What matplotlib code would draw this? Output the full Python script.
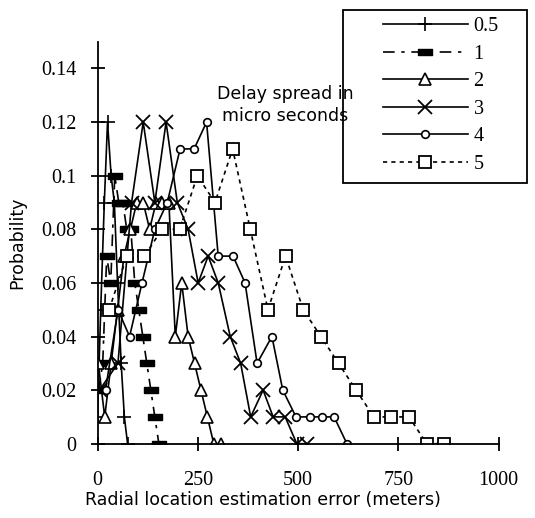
import matplotlib
matplotlib.use("Agg")
import matplotlib.pyplot as plt
from matplotlib.path import Path
from matplotlib.patches import Rectangle
import numpy as np

# ---------------- data ----------------
labels = ["0.5", "1", "2", "3", "4", "5"]

x05 = [0, 8, 17, 25, 34, 42, 50, 59, 67, 75]
y05 = [0.01, 0.05, 0.09, 0.12, 0.10, 0.09, 0.06, 0.03, 0.01, 0.0]

x1 = [3, 13, 23, 33, 43, 53, 63, 73, 83, 93, 103, 113, 123, 133, 143, 153]
y1 = [0.02, 0.03, 0.07, 0.06, 0.10, 0.09, 0.09, 0.08, 0.08, 0.06, 0.05, 0.04,
      0.03, 0.02, 0.01, 0.0]

x2 = [2, 18, 34, 50, 66, 82, 98, 114, 130, 146, 162, 178, 194, 210, 226, 242,
      258, 274, 290, 307]
y2 = [0.03, 0.01, 0.03, 0.05, 0.07, 0.08, 0.09, 0.09, 0.08, 0.09, 0.09, 0.09,
      0.04, 0.06, 0.04, 0.03, 0.02, 0.01, 0.0, 0.0]

x3 = [5, 51, 85, 114, 143, 171, 199, 226, 251, 276, 301, 331, 357, 382, 413,
      438, 468, 497, 522]
y3 = [0.02, 0.03, 0.09, 0.12, 0.09, 0.12, 0.09, 0.08, 0.06, 0.07, 0.06, 0.04,
      0.03, 0.01, 0.02, 0.01, 0.01, 0.0, 0.0]

x4 = [20, 51, 80, 111, 143, 174, 206, 241, 272, 301, 338, 368, 398, 435, 462,
      495, 530, 560, 590, 622]
y4 = [0.02, 0.05, 0.04, 0.06, 0.08, 0.09, 0.11, 0.11, 0.12, 0.07, 0.07, 0.06,
      0.03, 0.04, 0.02, 0.01, 0.01, 0.01, 0.01, 0.0]

x5 = [29, 73, 117, 161, 205, 249, 293, 337, 381, 425, 469, 513, 557, 601, 645,
      689, 733, 777, 821, 865]
y5 = [0.05, 0.07, 0.07, 0.08, 0.08, 0.10, 0.09, 0.11, 0.08, 0.05, 0.07, 0.05,
      0.04, 0.03, 0.02, 0.01, 0.01, 0.01, 0.0, 0.0]

xticks = [0, 250, 500, 750, 1000]
yticks = [0, 0.02, 0.04, 0.06, 0.08, 0.1, 0.12, 0.14]
ytick_labels = ["0", "0.02", "0.04", "0.06", "0.08", "0.1", "0.12", "0.14"]

# ---------------- figure ----------------
W, H = 535, 518
fig = plt.figure(figsize=(W / 100, H / 100), dpi=100)
ax = fig.add_axes([97.5 / W, (H - 443.7) / H, 401 / W, 402 / H])
ax.set_xlim(0, 1000)
ax.set_ylim(0, 0.15)

serif = "Liberation Serif"
sans = "DejaVu Sans"

bar = Path([(-1, -0.4), (1, -0.4), (1, 0.4), (-1, 0.4), (-1, -0.4)],
           [Path.MOVETO, Path.LINETO, Path.LINETO, Path.LINETO, Path.CLOSEPOLY])

lw = 1.2
h05, = ax.plot(x05, y05, color="black", lw=lw, marker="+", ms=10, mew=1.2,
               label=labels[0])
h1, = ax.plot(x1, y1, color="black", lw=lw, dashes=(7, 4, 2, 4), marker=bar,
              ms=10, mfc="black", mec="black", label=labels[1])
h2, = ax.plot(x2, y2, color="black", lw=lw, marker="^", ms=8, mfc="white",
              mec="black", mew=1.2, label=labels[2])
h3, = ax.plot(x3, y3, color="black", lw=lw, marker="x", ms=10, mew=1.3,
              label=labels[3])
h4, = ax.plot(x4, y4, color="black", lw=lw, marker="o", ms=5.5, mfc="white",
              mec="black", mew=1.2, label=labels[4])
h5, = ax.plot(x5, y5, color="black", lw=lw, dashes=(2.5, 2.5), marker="s",
              ms=9, mfc="white", mec="black", mew=1.3, label=labels[5])

for s in ["top", "right"]:
    ax.spines[s].set_visible(False)
for s in ["left", "bottom"]:
    ax.spines[s].set_linewidth(1.3)

ax.set_xticks(xticks)
ax.set_xticklabels([str(v) for v in xticks])
ax.set_yticks(yticks)
ax.set_yticklabels(ytick_labels)
ax.tick_params(axis="both", direction="inout", length=10, width=1.3,
               labelsize=14.5)
ax.tick_params(axis="x", pad=15)
ax.tick_params(axis="y", pad=10)
for t in ax.get_xticklabels() + ax.get_yticklabels():
    t.set_fontfamily(serif)

ax.set_xlabel("Radial location estimation error (meters)", fontfamily=sans,
              fontsize=12.5)
ax.xaxis.set_label_coords((263 - 97.5) / 401, -(491 - 443.7) / 402)
ax.set_ylabel("Probability", fontfamily=sans, fontsize=12.5)
ax.yaxis.set_label_coords(-(97.5 - 26) / 401, (443.7 - 243) / 402)

fig.text(285 / W, 1 - 105 / H, "Delay spread in\nmicro seconds",
         ha="center", va="center", fontfamily=sans, fontsize=12.5,
         linespacing=1.35)

# legend box
fig.patches.append(Rectangle((343 / W, 1 - 183 / H), (527 - 343) / W,
                             (183 - 10) / H, transform=fig.transFigure,
                             fill=False, edgecolor="black", lw=1.3))
leg = fig.legend(handles=[h05, h1, h2, h3, h4, h5], loc="upper left",
                 bbox_to_anchor=(383 / W, 1 - 17 / H), frameon=False,
                 handlelength=4.2, handletextpad=0.3, labelspacing=0.42,
                 borderpad=0.0, borderaxespad=0.0,
                 prop={"family": serif, "size": 14.5})

fig.savefig("out.png", dpi=100)
